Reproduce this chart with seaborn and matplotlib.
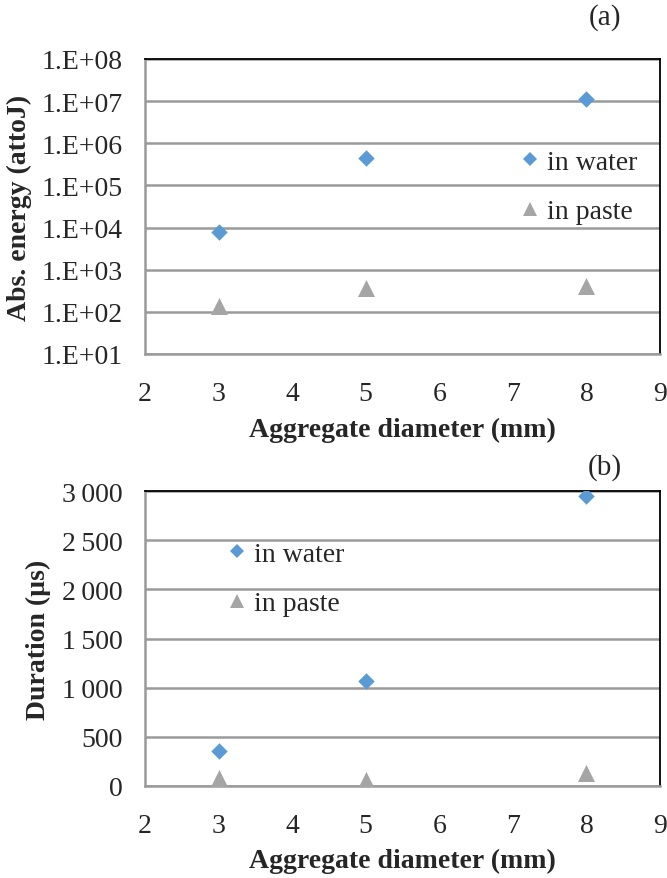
import math
import matplotlib
matplotlib.use("Agg")
import matplotlib.pyplot as plt
import matplotlib.ticker as mticker
from matplotlib.lines import Line2D
import seaborn as sns
import pandas as pd

# Data
diameter_mm = [3, 5, 8]
energy_water = [8000, 4.4e5, 1.15e7]
energy_paste = [135, 365, 405]
duration_water = [358, 1070, 2945]
duration_paste = [80, 65, 135]
series_labels = ["in water", "in paste"]

WATER_COLOR = "#5B9BD5"
PASTE_COLOR = "#A5A5A5"
GRID_COLOR = "#9A9A9A"
FONT = "Liberation Serif"
W, H = 667, 879

sns.set_theme(style="white")
plt.rcParams["font.family"] = [FONT, "DejaVu Serif"]

fig = plt.figure(figsize=(W / 100, H / 100), dpi=100)
ax_top = fig.add_axes([145 / W, 1 - 355 / H, 515 / W, 295 / H])
ax_bot = fig.add_axes([145 / W, 1 - 787 / H, 515 / W, 295 / H])


def draw(ax, water, paste):
    df_w = pd.DataFrame({"d": diameter_mm, "v": water})
    df_p = pd.DataFrame({"d": diameter_mm, "v": paste})
    sns.scatterplot(data=df_w, x="d", y="v", marker="D", color=WATER_COLOR,
                    s=70, linewidth=0, ax=ax, legend=False, zorder=3)
    sns.scatterplot(data=df_p, x="d", y="v", marker="^", color=PASTE_COLOR,
                    s=150, linewidth=0, ax=ax, legend=False, zorder=3)


def style_axes(ax):
    ax.set_xlim(2, 9)
    ax.set_xticks(range(2, 10))
    ax.grid(axis="y", color=GRID_COLOR, linewidth=1.8, zorder=0)
    ax.grid(axis="x", visible=False)
    for side in ("top", "right"):
        ax.spines[side].set_color("black")
        ax.spines[side].set_linewidth(1.3)
    for side in ("left", "bottom"):
        ax.spines[side].set_color(GRID_COLOR)
        ax.spines[side].set_linewidth(1.8)
    ax.tick_params(axis="both", which="major", direction="out", length=7,
                   width=1.5, color=GRID_COLOR, labelsize=20)
    ax.tick_params(axis="x", pad=12.5)
    ax.tick_params(axis="y", pad=9)
    ax.tick_params(axis="y", which="minor", left=False)
    for lab in ax.get_xticklabels() + ax.get_yticklabels():
        lab.set_fontfamily(FONT)


def legend(ax, anchor_px):
    handles = [
        Line2D([], [], marker="D", color="none", markerfacecolor=WATER_COLOR,
               markeredgewidth=0, markersize=7.5, label=series_labels[0]),
        Line2D([], [], marker="^", color="none", markerfacecolor=PASTE_COLOR,
               markeredgewidth=0, markersize=10, label=series_labels[1]),
    ]
    ax.legend(handles=handles, loc="center left",
              bbox_to_anchor=(anchor_px[0] / W, 1 - anchor_px[1] / H),
              bbox_transform=fig.transFigure,
              frameon=False, prop={"family": FONT, "size": 20},
              handlelength=0.6, handletextpad=0.3, labelspacing=0.85,
              borderpad=0, borderaxespad=0)


# (a) Absorbed energy, log scale
draw(ax_top, energy_water, energy_paste)
ax_top.set_yscale("log")
ax_top.set_ylim(10, 1e8)
ax_top.yaxis.set_major_locator(mticker.LogLocator(base=10, numticks=10))
ax_top.yaxis.set_minor_locator(mticker.NullLocator())
ax_top.yaxis.set_major_formatter(
    mticker.FuncFormatter(lambda v, p: "1.E+%02d" % round(math.log10(v))))
style_axes(ax_top)
ax_top.set_xlabel("Aggregate diameter (mm)", fontsize=20, fontweight="bold",
                  fontfamily=FONT, labelpad=8)
ax_top.set_ylabel("Abs. energy (attoJ)", fontsize=20, fontweight="bold",
                  fontfamily=FONT, labelpad=7)
legend(ax_top, (522, 188))
fig.text(605 / W, 1 - 18 / H, "(a)", fontsize=21, fontfamily=FONT,
         ha="center", va="center")

# (b) Duration, linear scale
draw(ax_bot, duration_water, duration_paste)
ax_bot.set_ylim(0, 3000)
ax_bot.set_yticks(range(0, 3001, 500))
ax_bot.yaxis.set_major_formatter(
    mticker.FuncFormatter(lambda v, p: f"{int(v):,}".replace(",", "\u2009")))
style_axes(ax_bot)
ax_bot.set_xlabel("Aggregate diameter (mm)", fontsize=20, fontweight="bold",
                  fontfamily=FONT, labelpad=7)
ax_bot.set_ylabel("Duration (\u00b5s)", fontsize=20, fontweight="bold",
                  fontfamily=FONT, labelpad=8)
legend(ax_bot, (229, 580))
fig.text(605 / W, 1 - 468 / H, "(b)", fontsize=21, fontfamily=FONT,
         ha="center", va="center")

fig.savefig("out.png", dpi=100, facecolor="white")
